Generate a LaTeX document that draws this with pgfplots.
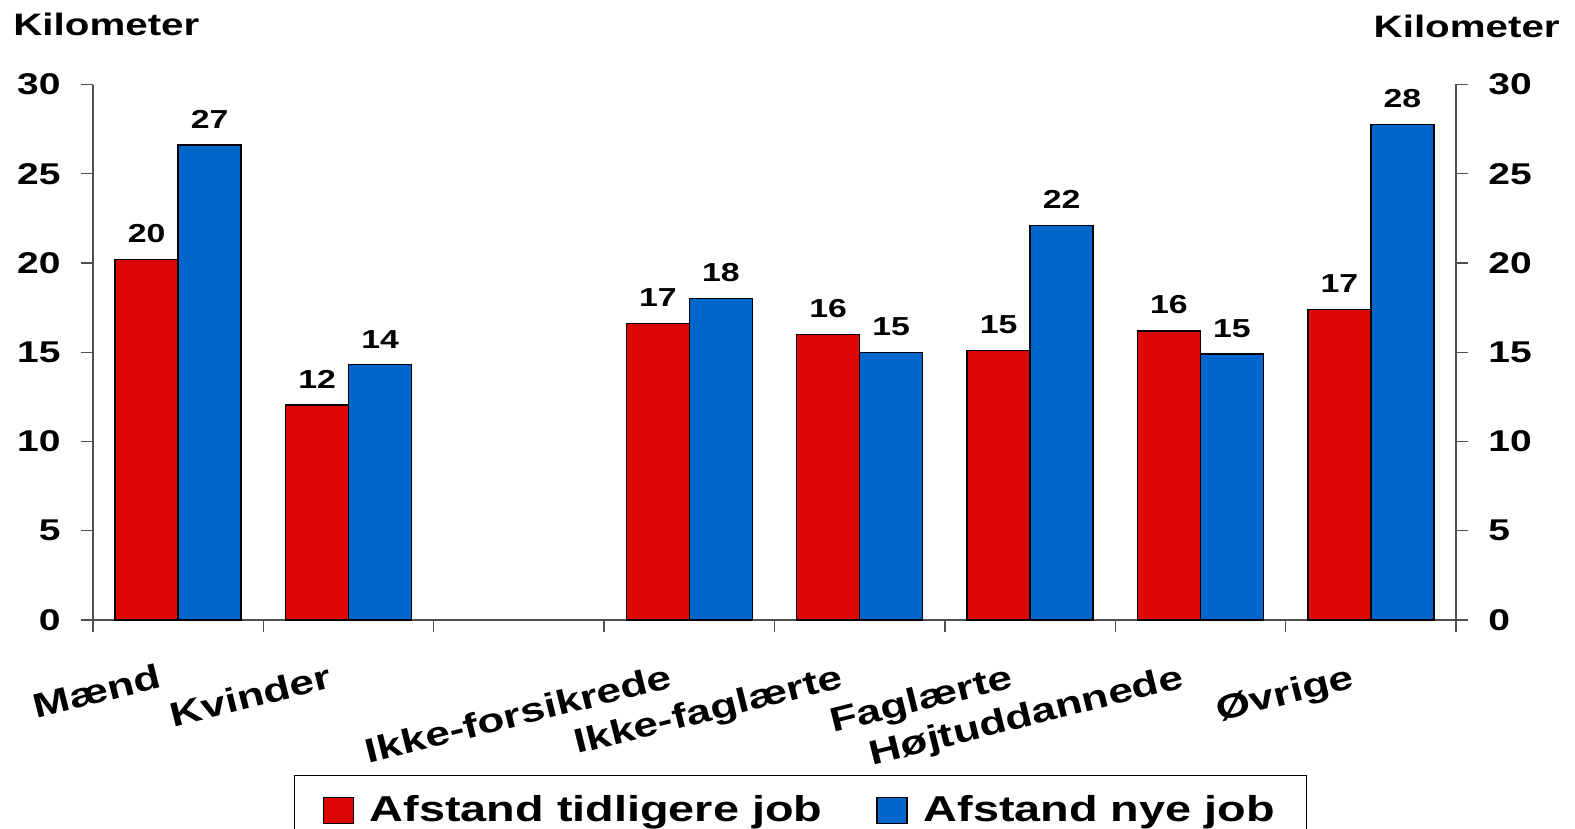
\documentclass[border=0pt]{standalone}
\usepackage{fontspec}
\setmainfont{Liberation Sans}[FakeStretch=1.3]
\usepackage{pgfplots}
\pgfplotsset{compat=1.18}
\definecolor{bred}{RGB}{221,8,6}
\definecolor{bblue}{RGB}{0,102,204}
\definecolor{axgray}{RGB}{80,80,80}
\begin{document}
\begin{tikzpicture}
\begin{axis}[
  at={(0,0)}, anchor=south west,
  width=681.5pt, height=267.75pt, scale only axis,
  xmin=-0.5, xmax=7.5, ymin=0, ymax=30,
  enlargelimits=false, clip=false,
  axis x line*=bottom, axis y line*=left,
  axis line style={-, draw=axgray, line width=0.7pt},
  tick style={draw=axgray, line width=0.7pt},
  tick align=outside, major tick length=6pt,
  ybar=0pt, bar width=31.5pt,
  xtick={-0.5,0.5,...,7.5}, xticklabels={},
  extra x ticks={0,1,2,3,4,5,6,7},
  extra x tick labels={Mænd,Kvinder,,Ikke-forsikrede,Ikke-faglærte,Faglærte,Højtuddannede,Øvrige},
  extra x tick style={tick style={draw=none},
    tick label style={rotate=14, anchor=north east, inner sep=0pt, xshift=-14pt, yshift=-12.5pt,
      font=\fontsize{17}{20}\selectfont\bfseries}},
  ytick={0,5,...,30},
  yticklabel style={anchor=east, inner sep=0pt, xshift=-10pt, font=\fontsize{15}{18}\selectfont\bfseries},
  /pgf/number format/assume math mode=true,
  nodes near coords,
  point meta=y,
  nodes near coords style={font=\fontsize{13}{15}\selectfont\bfseries, anchor=south, inner sep=0pt, yshift=8pt,
    /pgf/number format/fixed, /pgf/number format/precision=0, /pgf/number format/assume math mode=true},
  legend style={at={(0.1475,-0.2894)}, anchor=north west, draw=black, line width=0.6pt,
    font=\fontsize{18}{21}\selectfont\bfseries, legend columns=2,
    /tikz/every even column/.append style={column sep=25pt},
    inner xsep=14pt, inner ysep=8pt},
  legend image code/.code={\draw[#1, draw=black, line width=0.6pt] (0pt,-6.5pt) rectangle (15pt,6.5pt);
    \path (21pt,0pt);},
]
\addplot[fill=bred, draw=black, line width=0.7pt] coordinates {
(0,20.2) (1,12.05) (3,16.6) (4,16.0) (5,15.1) (6,16.2) (7,17.4)};
\addplot[fill=bblue, draw=black, line width=0.7pt] coordinates {
(0,26.6) (1,14.3) (3,18.0) (4,15.0) (5,22.1) (6,14.9) (7,27.75)};
\legend{Afstand tidligere job, Afstand nye job}
\end{axis}
\begin{axis}[
  at={(0,0)}, anchor=south west,
  width=681.5pt, height=267.75pt, scale only axis,
  xmin=-0.5, xmax=7.5, ymin=0, ymax=30,
  enlargelimits=false,
  hide x axis, axis y line*=right,
  axis line style={-, draw=axgray, line width=0.7pt},
  tick style={draw=axgray, line width=0.7pt},
  tick align=outside, major tick length=6pt,
  ytick={0,5,...,30},
  yticklabel style={anchor=west, inner sep=0pt, xshift=10pt, font=\fontsize{15}{18}\selectfont\bfseries},
  /pgf/number format/assume math mode=true,
]
\addplot[draw=none] coordinates {(0,0)};
\end{axis}
\node[anchor=base west, inner sep=0pt, font=\fontsize{15.5}{18}\selectfont\bfseries] at (-40pt,292pt) {Kilometer};
\node[anchor=base east, inner sep=0pt, font=\fontsize{15.5}{18}\selectfont\bfseries] at (733.5pt,291pt) {Kilometer};
\pgfresetboundingbox
\useasboundingbox (-46.5pt,-104.5pt) rectangle (741pt,310pt);
\end{tikzpicture}
\end{document}
